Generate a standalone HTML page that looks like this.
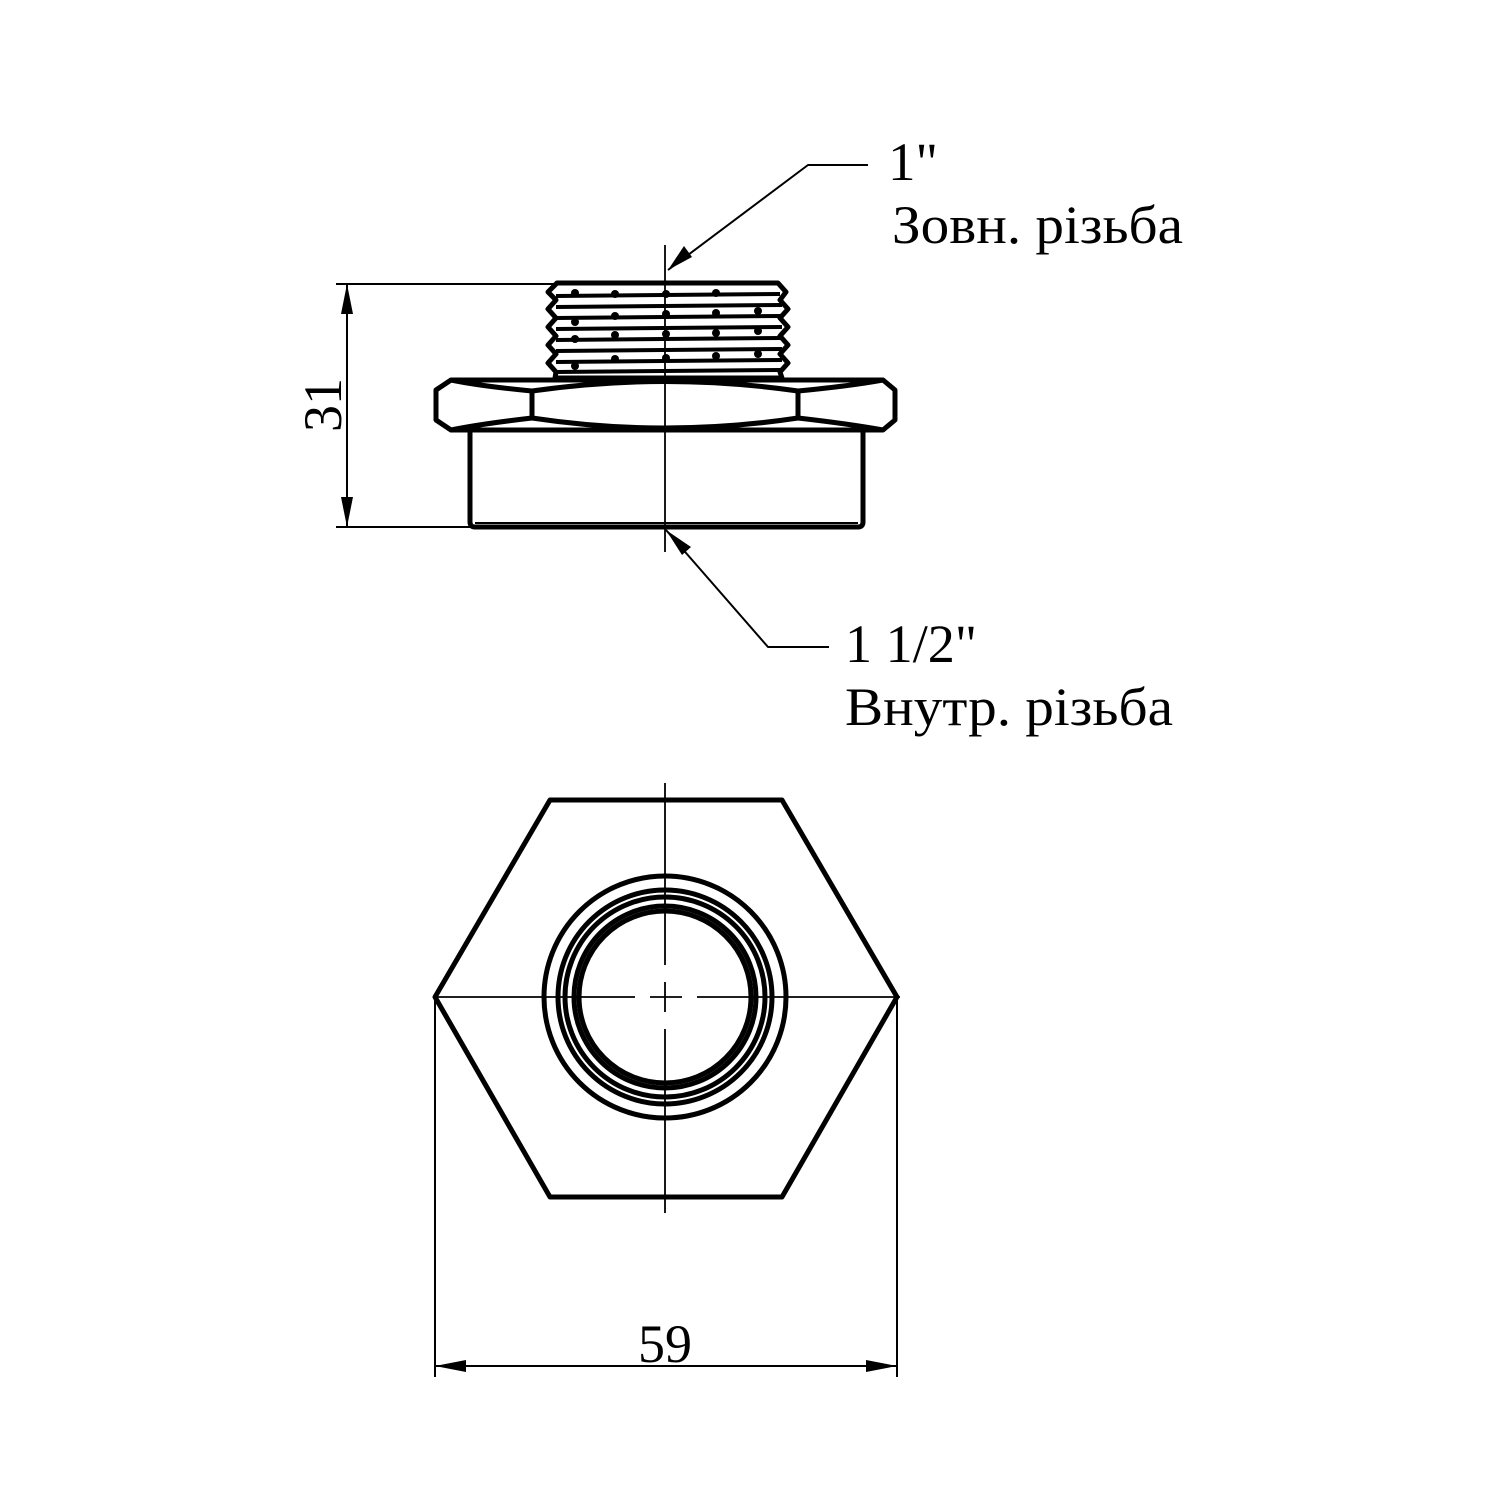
<!DOCTYPE html>
<html><head><meta charset="utf-8"><style>html,body{margin:0;padding:0;background:#fff}svg{display:block}</style></head>
<body>
<svg width="1500" height="1500" viewBox="0 0 1500 1500" xmlns="http://www.w3.org/2000/svg" font-family="'Liberation Serif', serif">
<rect width="1500" height="1500" fill="#fff"/>
<g fill="none" stroke="#000" stroke-linejoin="round">
<!-- thread -->
<g stroke-width="5">
<path d="M557,283 L778,283 L786,292 L780,300 L788,309 L780,318 L788,327 L780,336 L788,345 L780,354 L788,363 L780,372 L782,378 L555,378 L556,372 L548,363 L556,354 L548,345 L556,336 L548,327 L556,318 L548,309 L556,300 L548,292 Z"/>
<path d="M556,296 L780,294 M556,307 L782,305 M556,318 L782,316 M556,329 L782,327 M556,340 L782,338 M556,351 L782,349 M556,362 L782,360 M556,372 L782,370" stroke-width="4"/>
</g>
<g fill="#000" stroke="none">
<circle cx="575" cy="293" r="4"/><circle cx="615" cy="294" r="4"/><circle cx="666" cy="294" r="4"/><circle cx="716" cy="293" r="4"/>
<circle cx="575" cy="322" r="4"/><circle cx="615" cy="316" r="4"/><circle cx="666" cy="314" r="4"/><circle cx="716" cy="313" r="4"/><circle cx="758" cy="311" r="4"/>
<circle cx="575" cy="339" r="4"/><circle cx="615" cy="335" r="4"/><circle cx="666" cy="334" r="4"/><circle cx="716" cy="333" r="4"/><circle cx="758" cy="331" r="4"/>
<circle cx="575" cy="366" r="4"/><circle cx="615" cy="359" r="4"/><circle cx="666" cy="358" r="4"/><circle cx="716" cy="356" r="4"/><circle cx="758" cy="354" r="4"/>
</g>
<!-- hex band -->
<g stroke-width="5">
<path d="M451,380 L883,380 L895,390 L895,420 L883,430 L451,430 L436,420 L436,390 Z"/>
<path d="M532,391 L532,418 M798,391 L798,418"/>
<path d="M451,380 Q480,386 532,391 Q665,372 798,391 Q850,386 883,380"/>
<path d="M451,430 Q480,424 532,418 Q665,438 798,418 Q850,424 883,430"/>
<!-- body -->
<path d="M470,430 L470,522 Q470,527 475,527 L858,527 Q863,527 863,522 L863,430"/>
<path d="M475,523 L858,523" stroke-width="2"/>
<!-- bottom view -->
<path d="M550,800 L782,800 L897,997 L782,1197 L550,1197 L435,997 Z"/>
<circle cx="665" cy="997" r="121"/>
<circle cx="665" cy="997" r="107"/>
<circle cx="665" cy="997" r="100"/>
<circle cx="665" cy="997" r="91"/>
<circle cx="665" cy="997" r="86"/>
</g>
<!-- center lines -->
<g stroke-width="1.8">
<path d="M665,245 L665,552"/>
<path d="M665,783 L665,965 M665,982 L665,1012 M665,1029 L665,1213"/>
<path d="M433,997 L635,997 M650,997 L682,997 M697,997 L900,997"/>
</g>
<!-- dimensions -->
<g stroke-width="2">
<path d="M336,284 L557,284 M336,527 L470,527 M347,284 L347,527"/>
<path d="M435,1000 L435,1377 M897,1000 L897,1377 M435,1366 L897,1366"/>
<path d="M668,270 L808,165 L868,165"/>
<path d="M666,530 L768,647 L829,647"/>
</g>
</g>
<g fill="#000">
<polygon points="347,284 341,314 353,314"/>
<polygon points="347,527 341,497 353,497"/>
<polygon points="435,1366 466,1360 466,1372"/>
<polygon points="897,1366 866,1360 866,1372"/>
<polygon points="668,270 684,246 692,257"/>
<polygon points="666,530 682,555 691,547"/>
</g>
<g font-size="54" fill="#000">
<text x="888" y="180" textLength="50" lengthAdjust="spacingAndGlyphs">1"</text>
<text x="892" y="243" textLength="291" lengthAdjust="spacingAndGlyphs">Зовн. різьба</text>
<text x="845" y="662" textLength="132" lengthAdjust="spacingAndGlyphs">1 1/2"</text>
<text x="845" y="725" textLength="328" lengthAdjust="spacingAndGlyphs">Внутр. різьба</text>
<text x="665" y="1362" text-anchor="middle">59</text>
<text transform="translate(341,405) rotate(-90)" text-anchor="middle">31</text>
</g>
</svg>
</body></html>
